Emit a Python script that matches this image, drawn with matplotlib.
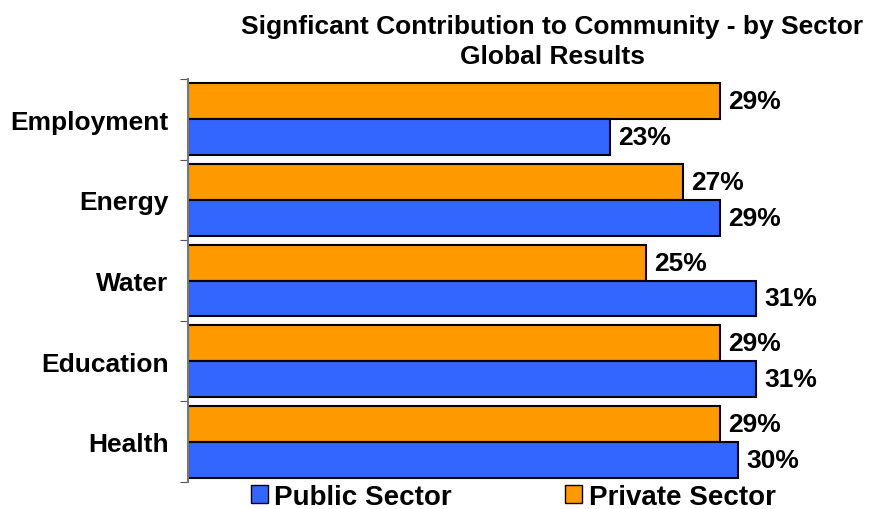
import matplotlib
matplotlib.use("Agg")
import matplotlib.pyplot as plt
import numpy as np
from matplotlib.patches import Patch

categories = ["Employment", "Energy", "Water", "Education", "Health"]
public_vals = [23, 29, 31, 31, 30]
private_vals = [29, 27, 25, 29, 29]

BLUE = "#3366ff"
ORANGE = "#ff9900"
FONT = ["Liberation Sans", "DejaVu Sans"]


def main() -> None:
    fig = plt.figure(figsize=(8.75, 5.1), dpi=100)
    ax = fig.add_axes([188 / 875, 27 / 510, 660 / 875, 403 / 510])

    y = np.arange(len(categories))
    h = 0.445
    ax.barh(y - h / 2, private_vals, height=h, color=ORANGE,
            edgecolor="black", linewidth=1.5)
    ax.barh(y + h / 2, public_vals, height=h, color=BLUE,
            edgecolor="black", linewidth=1.5)

    for yy, v in zip(y, private_vals):
        ax.text(v + 0.45, yy - h / 2, f"{v}%", va="center", ha="left",
                fontsize=19, fontweight="bold", family=FONT)
    for yy, v in zip(y, public_vals):
        ax.text(v + 0.45, yy + h / 2, f"{v}%", va="center", ha="left",
                fontsize=19, fontweight="bold", family=FONT)

    ax.set_xlim(0, 36)
    ax.set_ylim(len(categories) - 0.5, -0.5)
    ax.set_yticks(np.arange(len(categories) + 1) - 0.5)
    ax.set_yticklabels([])
    ax.set_yticks(y, minor=True)
    ax.set_yticklabels(categories, minor=True, fontsize=19,
                       fontweight="bold", family=FONT)
    ax.tick_params(axis="y", which="minor", length=0, pad=14)
    ax.tick_params(axis="y", which="major", length=6, color="#555555")
    ax.set_xticks([])
    for s in ["top", "right", "bottom"]:
        ax.spines[s].set_visible(False)
    ax.spines["left"].set_color("#777777")
    ax.spines["left"].set_linewidth(1.5)

    fig.text(552 / 875, 1 - 42 / 510,
             "Signficant Contribution to Community - by Sector\nGlobal Results",
             ha="center", va="center", fontsize=19, fontweight="bold",
             family=FONT, linespacing=1.3)

    handles = [Patch(facecolor=BLUE, edgecolor="black", label="Public Sector"),
               Patch(facecolor=ORANGE, edgecolor="black", label="Private Sector")]
    fig.legend(handles=handles, loc="center left",
               bbox_to_anchor=(237 / 875, 1 - 498 / 510), ncol=2, frameon=False,
               prop={"family": FONT, "weight": "bold", "size": 20},
               borderpad=0, handlelength=0.61, handleheight=0.61,
               handletextpad=0.22, columnspacing=4.1)

    fig.savefig("out.png", dpi=100)


if __name__ == "__main__":
    main()
